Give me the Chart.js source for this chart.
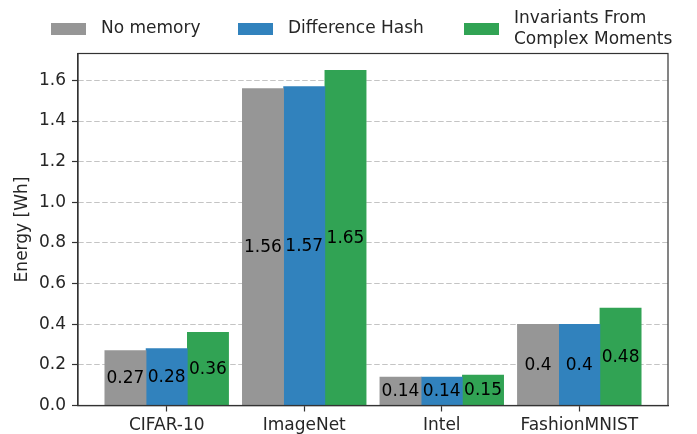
<!DOCTYPE html>
<html>
<head>
<meta charset="utf-8">
<script src="https://cdn.jsdelivr.net/npm/chart.js@4.4.1/dist/chart.umd.min.js"></script>
<style>
  html, body { margin: 0; padding: 0; background: #fff; }
  #wrap { width: 697px; height: 434px; }
</style>
</head>
<body>
<div id="wrap"><canvas id="chart"></canvas></div>
<script>
// ── data ──
const categories = ['CIFAR-10', 'ImageNet', 'Intel', 'FashionMNIST'];
const seriesNames = ['No memory', 'Difference Hash', ['Invariants From', 'Complex Moments']];
const noMemory = [0.27, 1.56, 0.14, 0.4];
const diffHash = [0.28, 1.57, 0.14, 0.4];
const complexMoments = [0.36, 1.65, 0.15, 0.48];
const yTicks = [0, 0.2, 0.4, 0.6, 0.8, 1.0, 1.2, 1.4, 1.6];

const COLORS = ['#969696', '#3182bd', '#31a354'];
const FONT = "'DejaVu Sans', sans-serif";
const FS = 17;
const TEXT = '#262626';
const AXIS = '#333333';

Chart.defaults.font.family = FONT;
Chart.defaults.color = TEXT;

const BAR_W = 0.3; // matplotlib bar width, in category units
const series = [noMemory, diffHash, complexMoments];

const datasets = series.map((vals, s) => ({
  label: Array.isArray(seriesNames[s]) ? seriesNames[s].join(' ') : seriesNames[s],
  data: vals.map((v, i) => ({ x: i + (s - 1) * BAR_W, y: v })),
  backgroundColor: COLORS[s],
  borderWidth: 0,
  grouped: false,
  barPercentage: 1,
  categoryPercentage: 1,
}));

// frame, value labels and legend
const decorations = {
  id: 'decorations',
  afterDatasetsDraw(chart) {
    const { ctx, chartArea: a } = chart;
    ctx.save();
    // value labels, centred in each bar
    ctx.font = FS + 'px ' + FONT;
    ctx.fillStyle = '#000';
    ctx.textAlign = 'center';
    ctx.textBaseline = 'middle';
    chart.data.datasets.forEach((ds, s) => {
      chart.getDatasetMeta(s).data.forEach((bar, i) => {
        const v = ds.data[i].y;
        ctx.fillText(String(v), bar.x, (bar.y + bar.base) / 2 + 1);
      });
    });
    // full box round the axes
    ctx.strokeStyle = AXIS;
    ctx.lineWidth = 1.2;
    ctx.strokeRect(a.left, a.top, a.right - a.left, a.bottom - a.top);
    ctx.restore();
  },
  afterDraw(chart) {
    const { ctx } = chart;
    ctx.save();
    ctx.font = FS + 'px ' + FONT;
    ctx.textBaseline = 'middle';
    ctx.textAlign = 'left';
    const boxX = [51, 238, 464];
    const cy = 29;
    seriesNames.forEach((name, s) => {
      ctx.fillStyle = COLORS[s];
      ctx.fillRect(boxX[s], cy - 6, 35, 12);
      ctx.fillStyle = TEXT;
      const lines = Array.isArray(name) ? name : [name];
      const lh = 20.5;
      lines.forEach((ln, k) => {
        ctx.fillText(ln, boxX[s] + 50, cy + (k - (lines.length - 1) / 2) * lh);
      });
    });
    ctx.restore();
  }
};

new Chart(document.getElementById('chart'), {
  type: 'bar',
  data: { datasets },
  options: {
    responsive: true,
    maintainAspectRatio: false,
    animation: false,
    layout: { padding: { top: 53.5, right: 29, left: 0, bottom: 0 } },
    plugins: {
      legend: { display: false },
      tooltip: { enabled: false },
    },
    scales: {
      x: {
        type: 'linear',
        offset: false,
        min: -0.645,
        max: 3.645,
        afterBuildTicks: (sc) => { sc.ticks = categories.map((_, i) => ({ value: i })); },
        afterFit: (sc) => { sc.height = 28.5; },
        ticks: {
          autoSkip: false,
          maxRotation: 0,
          padding: 4,
          color: TEXT,
          font: { size: FS },
          callback: (v) => categories[v],
        },
        grid: {
          offset: false,
          drawOnChartArea: false,
          drawTicks: true,
          tickLength: 6,
          tickColor: AXIS,
          tickWidth: 1.2,
        },
        border: { display: true, color: AXIS, width: 1.2 },
      },
      y: {
        min: 0,
        max: 1.7325,
        afterBuildTicks: (sc) => { sc.ticks = yTicks.map(v => ({ value: v })); },
        afterFit: (sc) => { sc.width = 78; },
        ticks: {
          padding: 6,
          color: TEXT,
          font: { size: FS },
          callback: (v) => Number(v).toFixed(1),
        },
        grid: {
          color: '#c4c4c4',
          lineWidth: 1,
          drawTicks: true,
          tickLength: 6,
          tickColor: AXIS,
          tickWidth: 1.2,
        },
        border: { display: true, color: AXIS, width: 1.2, dash: [5.5, 2.5] },
        title: {
          display: true,
          text: 'Energy [Wh]',
          color: TEXT,
          font: { size: FS },
          padding: { top: 12, bottom: 0 },
        },
      },
    },
  },
  plugins: [decorations],
});
</script>
</body>
</html>
